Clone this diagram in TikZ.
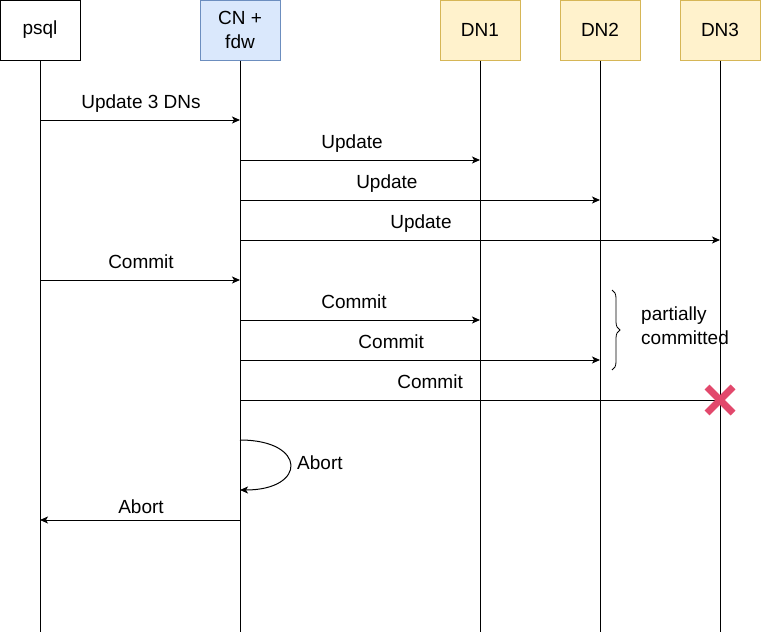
\documentclass[tikz,border=0pt]{standalone}
\usepackage{fontspec}
\setmainfont{Liberation Sans}
\usepackage{xcolor}
\usepackage{tikz}
\usetikzlibrary{arrows.meta}
\usetikzlibrary{decorations.pathreplacing}
\definecolor{cnfill}{HTML}{DAE8FC}
\definecolor{cnline}{HTML}{6C8EBF}
\definecolor{dnfill}{HTML}{FFF2CC}
\definecolor{dnline}{HTML}{D6B656}
\definecolor{failred}{HTML}{E2486C}
\tikzstyle{actor} = [rectangle, minimum width=80pt, minimum height=60pt, text centered, align=center, inner sep=0pt, line width=1pt, font=\fontsize{19}{24}\selectfont]
\tikzstyle{lifeline} = [line width=1pt]
\tikzstyle{msg} = [line width=1pt,-{Stealth[length=8pt,width=7pt,inset=2pt]}]
\tikzstyle{msglabel} = [font=\fontsize{19}{24}\selectfont, inner sep=0pt]
\tikzstyle{onarrow} = [msglabel, anchor=base, yshift=12pt]

\begin{document}
\begin{tikzpicture}[x=1pt,y=-1pt]
    \useasboundingbox (0,0) rectangle (761,632);

    % participants
    \node[actor, draw=black, fill=white] (psql) at (40,30) {psql};
    \node[actor, draw=cnline, fill=cnfill] (cn) at (240,30) {CN +\\fdw};
    \node[actor, draw=dnline, fill=dnfill] (dn1) at (480,30) {DN1};
    \node[actor, draw=dnline, fill=dnfill] (dn2) at (600,30) {DN2};
    \node[actor, draw=dnline, fill=dnfill] (dn3) at (720,30) {DN3};

    % lifelines and message points
    \foreach \n/\x in {psql/40,cn/240,dn1/480,dn2/600,dn3/720} {
        \coordinate (\n-end) at (\x,632);
        \draw[lifeline] (\n.south) -- (\n-end);
        \foreach \y in {120,160,200,240,280,320,360,400,440,490,520}
            \coordinate (\n-\y) at (\x,\y);
    }

    % update phase
    \draw[msg] (psql-120) -- node[onarrow, pos=0.505] {Update 3 DNs} (cn-120);
    \draw[msg] (cn-160) -- node[onarrow, pos=0.467] {Update} (dn1-160);
    \draw[msg] (cn-200) -- node[onarrow, pos=0.408] {Update} (dn2-200);
    \draw[msg] (cn-240) -- node[onarrow, pos=0.377] {Update} (dn3-240);

    % commit phase
    \draw[msg] (psql-280) -- node[onarrow, pos=0.505] {Commit} (cn-280);
    \draw[msg] (cn-320) -- node[onarrow, pos=0.475] {Commit} (dn1-320);
    \draw[msg] (cn-360) -- node[onarrow, pos=0.42] {Commit} (dn2-360);
    \draw[lifeline] (cn-400) -- node[onarrow, pos=0.396] {Commit} (dn3-400);

    % failed node
    \draw[failred, line width=7pt] ([shift={(-13,-13)}]dn3-400) -- ([shift={(13,13)}]dn3-400)
        ([shift={(-13,13)}]dn3-400) -- ([shift={(13,-13)}]dn3-400);

    % partially committed note
    \draw[decorate, decoration={brace, amplitude=8pt}, line width=0.8pt] (612,290) -- (612,370);
    \node[msglabel, anchor=west, align=left] (note) at (641,326) {partially\\committed};

    % abort
    \draw[msg] (cn-440) .. controls +(67,0) and +(67,0) .. (cn-490);
    \node[msglabel, anchor=base west] (selfabort) at (297,469) {Abort};
    \draw[msg] (cn-520) -- node[onarrow, pos=0.495, yshift=-5.5pt] {Abort} (psql-520);
\end{tikzpicture}
\end{document}
